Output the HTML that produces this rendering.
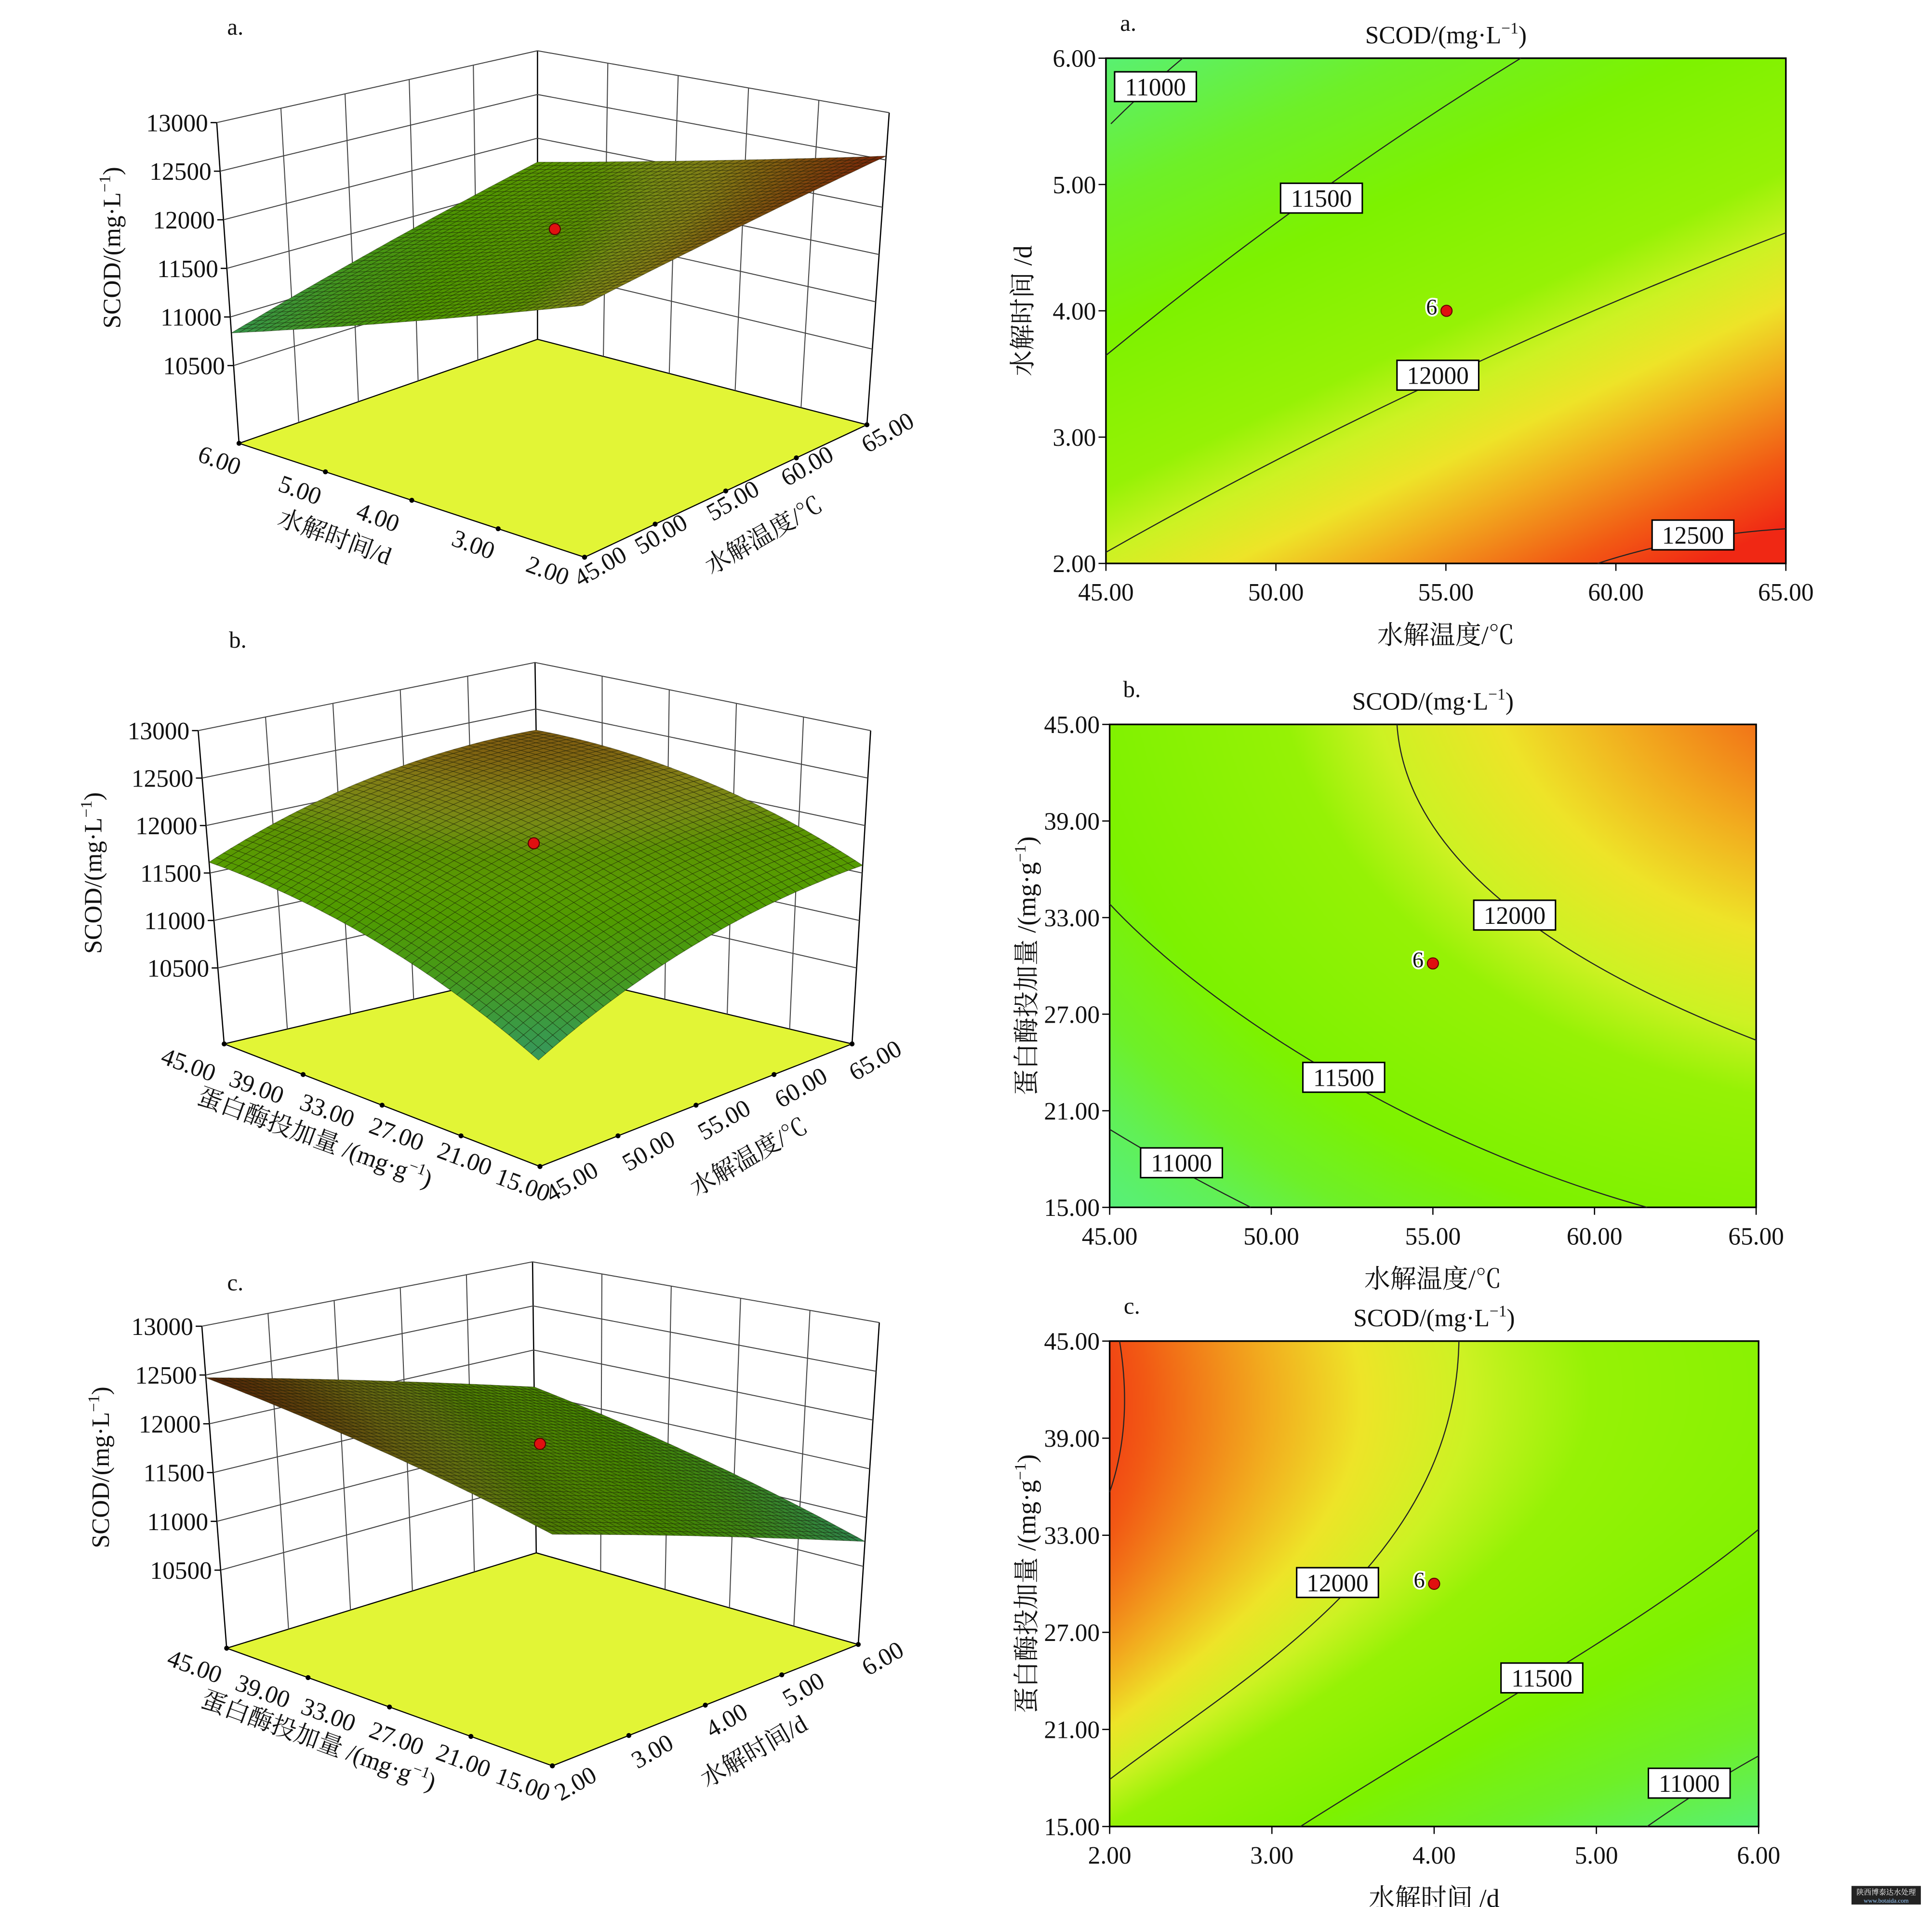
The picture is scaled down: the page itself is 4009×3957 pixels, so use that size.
<!DOCTYPE html>
<html><head><meta charset="utf-8">
<style>
html,body{margin:0;padding:0;background:#fff;}
#wrap{position:relative;width:4009px;height:3957px;overflow:hidden;background:#fff;}
#cv{position:absolute;left:0;top:0;width:4009px;height:3957px;}
#sv{position:absolute;left:0;top:0;}
text{font-family:"Liberation Serif","Noto Serif CJK SC","Noto Sans CJK SC",serif;fill:#111;}
</style></head>
<body>
<div id="wrap">
<canvas id="cv" width="1560" height="1540"></canvas>
<svg id="sv" width="4009" height="3957" viewBox="0 0 1560 1540" preserveAspectRatio="none" xmlns="http://www.w3.org/2000/svg"></svg>
</div>
<script>
var stops=[[10600,[80,235,170]],[10900,[90,240,110]],[11200,[110,240,40]],[11500,[125,242,0]],[11850,[150,242,5]],[12000,[205,242,35]],[12150,[238,228,40]],[12300,[242,170,30]],[12500,[242,90,20]],[12650,[240,40,20]]];
function cmap(v){if(v<=stops[0][0])return stops[0][1];for(var i=1;i<stops.length;i++){if(v<=stops[i][0]){var a=stops[i-1],b=stops[i],t=(v-a[0])/(b[0]-a[0]);return [0,1,2].map(function(k){return Math.round(a[1][k]+(b[1][k]-a[1][k])*t);});}}return stops[stops.length-1][1];}
function fa(x,y){return 12000-(y-0.63*x-0.02)/0.44*500;}
function fb(x,y){var r=Math.hypot(x-1.25,y-1.2);var p=[[0.3,12450],[0.86,12000],[1.32,11500],[1.6,11000],[1.9,10650]];if(r<=p[0][0])return p[0][1];for(var i=1;i<p.length;i++)if(r<=p[i][0]){var t=(r-p[i-1][0])/(p[i][0]-p[i-1][0]);return p[i-1][1]+(p[i][1]-p[i-1][1])*t;}return 10650;}
function fc(x,y){return 11842-1267*x+305*x*x+1680*y-972*y*y+83*x*y;}
var ctx=document.getElementById('cv').getContext('2d');
function fill(x0,y0,x1,y1,f){var w=x1-x0,h=y1-y0;var im=ctx.createImageData(w,h);for(var j=0;j<h;j++)for(var i=0;i<w;i++){var c=cmap(f(i/w,1-j/h));var o=(j*w+i)*4;im.data[o]=c[0];im.data[o+1]=c[1];im.data[o+2]=c[2];im.data[o+3]=255;}ctx.putImageData(im,x0,y0);}
fill(893,47,1442,455,fa);fill(896,585,1418,975,fb);fill(896,1083,1420,1475,fc);

var s='';
function T(x,y,t,sz,anc,rot,extra){s+='<text x="'+x+'" y="'+y+'" font-size="'+sz+'" text-anchor="'+(anc||'middle')+'"'+(rot?' transform="rotate('+rot+' '+x+' '+y+')"':'')+(extra||'')+'>'+t+'</text>';}
var SC='SCOD/(mg·L<tspan dy="-8" font-size="13">−1</tspan><tspan dy="8">)</tspan>';
var EN='蛋白酶投加量 /(mg·g<tspan dy="-8" font-size="13">−1</tspan><tspan dy="8">)</tspan>';
function contour(x0,y0,x1,y1,xt,yt,xlab,ylab,title,tag,paths,labels,pt){
  s+='<rect x="'+x0+'" y="'+y0+'" width="'+(x1-x0)+'" height="'+(y1-y0)+'" fill="none" stroke="#000" stroke-width="1.3"/>';
  paths.forEach(function(p){s+='<path d="'+p+'" fill="none" stroke="#222" stroke-width="0.9"/>';});
  labels.forEach(function(l){s+='<rect x="'+(l[0]-33)+'" y="'+(l[1]-12)+'" width="66" height="24" fill="#fff" stroke="#000" stroke-width="1.2"/>';T(l[0],l[1]+7,l[2],20);});
  for(var i=0;i<yt.length;i++){var y=y0+(y1-y0)*i/(yt.length-1);s+='<line x1="'+(x0-6)+'" y1="'+y+'" x2="'+x0+'" y2="'+y+'" stroke="#000"/>';T(x0-8,y+7,yt[i],20,'end');}
  for(var i=0;i<xt.length;i++){var x=x0+(x1-x0)*i/(xt.length-1);s+='<line x1="'+x+'" y1="'+y1+'" x2="'+x+'" y2="'+(y1+6)+'" stroke="#000"/>';T(x,y1+30,xt[i],20);}
  T((x0+x1)/2,y1+65,xlab,21);
  T(x0-60,(y0+y1)/2,ylab,21,'middle',-90);
  T((x0+x1)/2+(title[0]||0),y0-12,SC,20);
  T(x0+18,y0-22,tag,19);
  s+='<circle cx="'+pt[0]+'" cy="'+pt[1]+'" r="4.5" fill="#e01010" stroke="#600" stroke-width="0.8"/>';
  T(pt[0]-12,pt[1]+3,'6',18,'middle',0,' stroke="#fff" stroke-width="3" paint-order="stroke"');
}
contour(893,47,1442,455,['45.00','50.00','55.00','60.00','65.00'],['6.00','5.00','4.00','3.00','2.00'],'水解温度/℃','水解时间 /d',[0],'a.',
 ['M897,100 Q925,72 955,47','M893,287 Q1060,150 1228,47','M893,446 Q1150,300 1442,188','M1290,455 Q1360,432 1442,427'],
 [[933,70,'11000'],[1067,160,'11500'],[1161,303,'12000'],[1367,432,'12500']],[1168,251]);
contour(896,585,1418,975,['45.00','50.00','55.00','60.00','65.00'],['45.00','39.00','33.00','27.00','21.00','15.00'],'水解温度/℃',EN,[0],'b.',
 ['M1128,585 C1135,690 1250,775 1418,840','M896,730 C980,820 1150,925 1330,975','M896,912 Q950,945 1010,975'],
 [[1223,739,'12000'],[1085,870,'11500'],[954,939,'11000']],[1157,778]);
contour(896,1083,1420,1475,['2.00','3.00','4.00','5.00','6.00'],['45.00','39.00','33.00','27.00','21.00','15.00'],'水解时间 /d',EN,[0],'c.',
 ['M896,1205 Q915,1150 904,1083','M896,1437 C1010,1350 1175,1260 1178,1083','M1050,1475 C1200,1380 1330,1310 1420,1235','M1330,1475 Q1380,1440 1420,1418'],
 [[1080,1278,'12000'],[1245,1355,'11500'],[1364,1440,'11000']],[1158,1279]);

function lerp(a,b,t){return [a[0]+(b[0]-a[0])*t,a[1]+(b[1]-a[1])*t];}
function plot3d(P){
  var FB=P.fB,FL=P.fL,FR=P.fR,FF=P.fF,TB=P.tB,TL=P.tL,TR=P.tR,TF=P.tF;
  function bil(B,L,R,F,u,v){return [B[0]+u*(L[0]-B[0])+v*(R[0]-B[0])+u*v*(F[0]-L[0]-R[0]+B[0]),B[1]+u*(L[1]-B[1])+v*(R[1]-B[1])+u*v*(F[1]-L[1]-R[1]+B[1])];}
  function pr(u,v,f){return lerp(bil(FB,FL,FR,FF,u,v),bil(TB,TL,TR,TF,u,v),f);}
  function fr(z){return (z-9700)/3300;}
  s+='<polygon points="'+[FB,FL,FF,FR].map(function(p){return p.join(',');}).join(' ')+'" fill="#e2f536" stroke="#000" stroke-width="0.9"/>';
  var g='stroke="#444" stroke-width="0.8" fill="none"';
  s+='<line x1="'+FB[0]+'" y1="'+FB[1]+'" x2="'+TB[0]+'" y2="'+TB[1]+'" stroke="#000" stroke-width="1"/>';
  s+='<line x1="'+FL[0]+'" y1="'+FL[1]+'" x2="'+TL[0]+'" y2="'+TL[1]+'" stroke="#000" stroke-width="1"/>';
  s+='<line x1="'+FR[0]+'" y1="'+FR[1]+'" x2="'+TR[0]+'" y2="'+TR[1]+'" stroke="#000" stroke-width="1"/>';
  var lev=[13000,12500,12000,11500,11000,10500];
  lev.forEach(function(z){var f=fr(z);var a=pr(1,0,f),b=pr(0,0,f),c=pr(0,1,f);s+='<polyline points="'+a.join(',')+' '+b.join(',')+' '+c.join(',')+'" '+g+'/>';
    s+='<line x1="'+(a[0]-5)+'" y1="'+a[1]+'" x2="'+a[0]+'" y2="'+a[1]+'" stroke="#000"/>';T(a[0]-7,a[1]+7,z,20,'end');});
  for(var k=1;k<5;k++){var u=k/5;var a=pr(u,0,0),b=pr(u,0,1);s+='<line x1="'+a[0]+'" y1="'+a[1]+'" x2="'+b[0]+'" y2="'+b[1]+'" '+g+'/>';a=pr(0,u,0);b=pr(0,u,1);s+='<line x1="'+a[0]+'" y1="'+a[1]+'" x2="'+b[0]+'" y2="'+b[1]+'" '+g+'/>';}
  for(var k=0;k<=4;k++){var p=pr(1,k/4,0);s+='<circle cx="'+p[0]+'" cy="'+p[1]+'" r="2" fill="#000"/>';p=pr(k/4,1,0);s+='<circle cx="'+p[0]+'" cy="'+p[1]+'" r="2" fill="#000"/>';}
  var N=44,q=[];
  function zf(u,v){var b=P.sB*(1-u)*(1-v)+P.sL*u*(1-v)+P.sR*(1-u)*v+P.sF*u*v;return b+P.bump*(u*(1-u)+v*(1-v));}
  for(var i=0;i<N;i++)for(var j=0;j<N;j++)q.push([i,j]);
  q.sort(function(a,b){return (a[0]+a[1])-(b[0]+b[1]);});
  q.forEach(function(c){var u0=c[0]/N,u1=(c[0]+1)/N,v0=c[1]/N,v1=(c[1]+1)/N;
    var pts=[[u0,v0],[u1,v0],[u1,v1],[u0,v1]].map(function(t){return pr(t[0],t[1],zf(t[0],t[1]));});
    var f=zf((u0+u1)/2,(v0+v1)/2);var col=cmap(9700+f*3300+P.cshift);var d=P.dark*(1-P.dk2*Math.max(0,f-0.6));
    s+='<polygon points="'+pts.map(function(p){return p[0].toFixed(1)+','+p[1].toFixed(1);}).join(' ')+'" fill="rgb('+Math.round(col[0]*d)+','+Math.round(col[1]*d)+','+Math.round(col[2]*d)+')" stroke="rgba(15,20,0,0.5)" stroke-width="0.4"/>';});
  s+='<circle cx="'+P.dot[0]+'" cy="'+P.dot[1]+'" r="4.5" fill="#e01010" stroke="#500" stroke-width="0.8"/>';
  P.lt.forEach(function(t){T(t[0],t[1],t[2],20,'middle',t[3]);});
  T(P.zl[0],P.zl[1],SC,20,'middle',-90);
  T(P.tag[0],P.tag[1],P.tag[2],19);
}
plot3d({fB:[434,274],fL:[193,358],fR:[700,343],fF:[472,450],tB:[434,41],tL:[175,99],tR:[718,91],tF:[470,170],
 sB:0.614,sL:0.344,sR:0.861,sF:0.726,bump:0.0,cshift:0,dark:0.62,dk2:0.8,dot:[448,185],zl:[97,200],tag:[190,28,'a.'],
 lt:[[175,378,'6.00',20],[240,402,'5.00',20],[303,424,'4.00',20],[380,446,'3.00',20],[440,467,'2.00',20],[268,440,'水解时间/d',20],
 [488,463,'45.00',-30],[537,437,'50.00',-30],[595,410,'55.00',-30],[655,382,'60.00',-30],[720,355,'65.00',-30],[620,438,'水解温度/℃',-30]]});
plot3d({fB:[436,783],fL:[181,843],fR:[688,843],fF:[436,942],tB:[432,535],tL:[160,590],tR:[703,590],tF:[432,665],
 sB:0.78,sL:0.58,sR:0.57,sF:0.31,bump:0.23,cshift:0,dark:0.64,dk2:1.0,dot:[431,681],zl:[82,705],tag:[192,523,'b.'],
 lt:[[150,866,'45.00',20],[205,884,'39.00',20],[262,903,'33.00',20],[318,922,'27.00',20],[373,942,'21.00',20],[420,963,'15.00',20],[252,925,EN,20],
 [465,960,'45.00',-30],[527,935,'50.00',-30],[588,910,'55.00',-30],[650,884,'60.00',-30],[710,862,'65.00',-30],[608,940,'水解温度/℃',-30]]});
plot3d({fB:[433,1254],fL:[183,1331],fR:[693,1328],fF:[446,1426],tB:[430,1019],tL:[163,1071],tR:[710,1068],tF:[446,1141],
 sB:0.57,sL:0.84,sR:0.32,sF:0.656,bump:0.05,cshift:0,dark:0.55,dk2:1.6,dot:[436,1166],zl:[88,1185],tag:[190,1042,'c.'],
 lt:[[155,1352,'45.00',20],[210,1372,'39.00',20],[263,1391,'33.00',20],[318,1410,'27.00',20],[372,1428,'21.00',20],[420,1447,'15.00',20],[255,1412,EN,20],
 [468,1446,'2.00',-30],[530,1420,'3.00',-30],[590,1395,'4.00',-30],[652,1370,'5.00',-30],[716,1345,'6.00',-30],[612,1420,'水解时间/d',-30]]});
s+='<rect x="1495" y="1523" width="56" height="15" fill="#222"/><text x="1523" y="1530" font-size="6" text-anchor="middle" style="fill:#fff">陕西博泰达水处理</text><text x="1523" y="1536.5" font-size="5" text-anchor="middle" style="fill:#9cf">www.botaida.com</text>';
document.getElementById('sv').innerHTML=s;
</script>
</body></html>
